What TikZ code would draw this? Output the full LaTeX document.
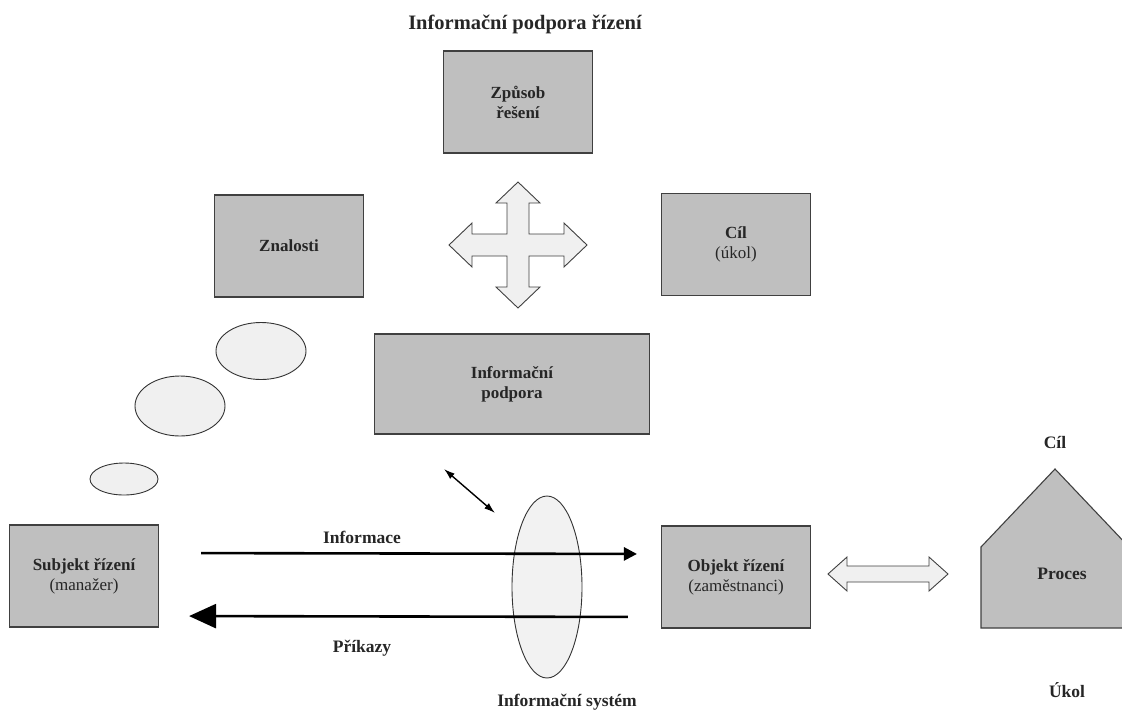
\documentclass[tikz,border=0pt]{standalone}
\usepackage{fontspec}
\setmainfont{Liberation Serif}
\usetikzlibrary{positioning,arrows.meta,shapes.geometric}

\begin{document}
\begin{tikzpicture}[x=1pt, y=-1pt, font=\fontsize{17}{20}\selectfont]
\tikzset{BoxStyle/.style = {draw=black!75, fill=black!25, line width=1.1pt, minimum width=149pt, minimum height=102pt, align=center, inner sep=2pt, text=black!85, font=\fontsize{17}{20}\selectfont\bfseries}}
\tikzset{BubbleStyle/.style = {ellipse, draw=black!80, fill=black!6, line width=0.9pt, inner sep=0pt}}
\tikzset{BlockStyle/.style = {draw=black!75, fill=black!6, line width=0.9pt, line join=miter}}
\tikzset{LabelStyle/.style = {text=black!85, font=\fontsize{17.5}{20}\selectfont\bfseries}}
\tikzset{FlowStyle/.style = {line width=2.6pt}}
  \useasboundingbox (0,0) rectangle (1122,713);
  \clip (0,0) rectangle (1122,713);
  % nadpis
  \node[LabelStyle, font=\fontsize{20.5}{24}\selectfont\bfseries] (title) at (525,24) {Informační podpora řízení};
  % horni cast
  \node[BoxStyle] (zpusob) at (518,102) {Způsob\\řešení};
  \node[BoxStyle] (znalosti) at (289,246) {Znalosti};
  \node[BoxStyle] (cil) at (736,244.5) {Cíl\\\mdseries(úkol)};
  \node[BoxStyle, minimum width=275pt, minimum height=100pt] (podpora) at (512,384) {Informační\\podpora};
  \begin{scope}[shift={(518,245)}]
    \draw[BlockStyle] (0,-63) -- (22,-42) -- (11,-42) -- (11,-11) -- (46,-11) -- (46,-22) -- (69,0)
      -- (46,22) -- (46,11) -- (11,11) -- (11,42) -- (22,42) -- (0,63) -- (-22,42) -- (-11,42)
      -- (-11,11) -- (-46,11) -- (-46,22) -- (-69,0) -- (-46,-22) -- (-46,-11) -- (-11,-11)
      -- (-11,-42) -- (-22,-42) -- cycle;
  \end{scope}
  % bubliny
  \node[BubbleStyle, minimum width=90pt, minimum height=57pt] (b1) at (261,351) {};
  \node[BubbleStyle, minimum width=90pt, minimum height=60pt] (b2) at (180,406) {};
  \node[BubbleStyle, minimum width=68pt, minimum height=32pt] (b3) at (124,479) {};
  % dolni cast
  \node[BubbleStyle, minimum width=70pt, minimum height=182pt, fill=black!5] (is) at (547,587) {};
  \node[BoxStyle] (subj) at (84,576) {Subjekt řízení\\\mdseries(manažer)};
  \node[BoxStyle] (obj) at (736,577) {Objekt řízení\\\mdseries(zaměstnanci)};
  \draw[FlowStyle, -{Triangle[length=13pt,width=13pt]}, shorten <=42pt, shorten >=24pt]
    ([yshift=23pt]subj.east) -- ([yshift=23pt]obj.west);
  \draw[FlowStyle, -{Triangle[length=27pt,width=24pt]}, shorten <=33pt, shorten >=30pt]
    ([yshift=-40pt]obj.west) -- ([yshift=-40pt]subj.east);
  \node[LabelStyle] (informace) at (362,537) {Informace};
  \node[LabelStyle] (prikazy) at (362,648) {Příkazy};
  \node[LabelStyle] (system) at (567,702) {Informační systém};
  \coordinate (p1) at (444,469);
  \coordinate (p2) at (495,513);
  \draw[line width=1.4pt, {Latex[length=11pt,width=7pt]}-{Latex[length=11pt,width=7pt]}] (p1) -- (p2);
  % proces
  \begin{scope}[shift={(888,574)}]
    \draw[BlockStyle] (-60,0) -- (-41,-17) -- (-41,-8) -- (41,-8) -- (41,-17) -- (60,0)
      -- (41,17) -- (41,8) -- (-41,8) -- (-41,17) -- cycle;
  \end{scope}
  \draw[draw=black!75, fill=black!25, line width=1.1pt] (981,547) -- (1055,469) -- (1129,547) -- (1129,628) -- (981,628) -- cycle;
  \node[LabelStyle] (proces) at (1062,574) {Proces};
  \node[LabelStyle] (cilb) at (1055,442) {Cíl};
  \node[LabelStyle] (ukol) at (1067,690) {Úkol};
\end{tikzpicture}
\end{document}
